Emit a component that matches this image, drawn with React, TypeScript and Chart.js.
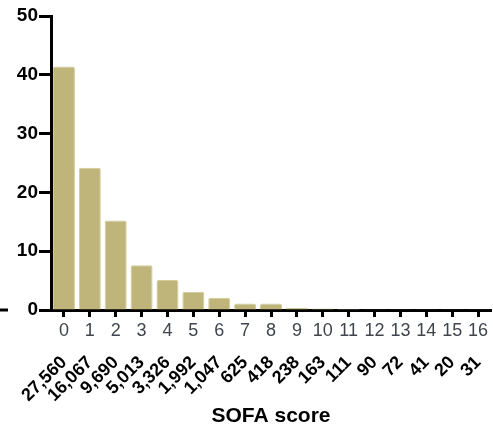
import React, { useEffect, useRef } from "react";
import { Chart, registerables } from "chart.js";

Chart.register(...registerables);

const scores = ["0", "1", "2", "3", "4", "5", "6", "7", "8", "9", "10", "11", "12", "13", "14", "15", "16"];
const counts = ["27,560", "16,067", "9,690", "5,013", "3,326", "1,992", "1,047", "625", "418", "238", "163", "111", "90", "72", "41", "20", "31"];
const percents = [41.4, 24.2, 15.2, 7.6, 5.1, 3.1, 2.1, 1.1, 1.1, 0.4, 0.25, 0.17, 0.14, 0.11, 0.06, 0.03, 0.05];
const yTicks = [0, 10, 20, 30, 40, 50];
const axisTitle = "SOFA score";

const FONT = "'Liberation Sans', Arial, sans-serif";

const dashPlugin = {
  id: "leftDash",
  afterDraw(chart: any) {
    const y = chart.scales.y.getPixelForValue(0);
    const ctx = chart.ctx;
    ctx.save();
    ctx.strokeStyle = "#000";
    ctx.lineWidth = 3;
    ctx.beginPath();
    ctx.moveTo(0, y);
    ctx.lineTo(8, y);
    ctx.stroke();
    ctx.restore();
  },
};

export default function App() {
  const ref = useRef<HTMLCanvasElement | null>(null);

  useEffect(() => {
    if (!ref.current) return;
    const chart = new Chart(ref.current, {
      type: "bar",
      data: {
        labels: scores,
        datasets: [
          {
            data: percents,
            backgroundColor: "#BFB57B",
            borderColor: "#D2CA94",
            borderWidth: 1,
            borderRadius: 2,
            borderSkipped: "bottom",
            barPercentage: 0.85,
            categoryPercentage: 1,
          },
        ],
      },
      options: {
        responsive: false,
        animation: false,
        layout: { padding: { top: 16, right: 2, bottom: 0, left: 0 } },
        plugins: { legend: { display: false }, tooltip: { enabled: false } },
        scales: {
          x: {
            type: "category",
            position: "bottom",
            offset: true,
            afterFit: (scale: any) => {
              scale.height = 30;
              scale.paddingLeft = 0;
              scale.paddingRight = 0;
            },
            grid: {
              display: true,
              drawOnChartArea: false,
              offset: false,
              tickLength: 7,
              tickWidth: 3,
              tickColor: "#000",
            },
            border: { display: true, width: 3, color: "#000" },
            ticks: {
              color: "#40454d",
              font: { family: FONT, size: 18 },
              maxRotation: 0,
              minRotation: 0,
              autoSkip: false,
              padding: 3,
            },
          },
          x2: {
            type: "category",
            position: "bottom",
            labels: counts,
            offset: true,
            afterFit: (scale: any) => {
              scale.height = 89;
              scale.paddingLeft = 0;
              scale.paddingRight = 0;
            },
            grid: { display: false, drawTicks: false },
            border: { display: false },
            ticks: {
              color: "#000",
              font: { family: FONT, size: 18, weight: "bold" },
              maxRotation: 45,
              minRotation: 45,
              autoSkip: false,
              padding: 12,
            },
            title: {
              display: true,
              text: axisTitle,
              color: "#000",
              font: { family: FONT, size: 21, weight: "bold" },
              padding: { top: 8, bottom: 0 },
            },
          },
          y: {
            min: 0,
            max: 50,
            afterFit: (scale: any) => {
              scale.width = 51;
            },
            afterBuildTicks: (scale: any) => {
              scale.ticks = yTicks.map((v) => ({ value: v }));
            },
            grid: {
              display: true,
              drawOnChartArea: false,
              tickLength: 12,
              tickWidth: 3,
              tickColor: "#000",
            },
            border: { display: true, width: 3, color: "#000" },
            ticks: {
              color: "#000",
              font: { family: FONT, size: 19, weight: "bold" },
              padding: 1,
            },
          },
        },
      },
      plugins: [dashPlugin],
    });
    return () => chart.destroy();
  }, []);

  return (
    <div style={{ position: "fixed", left: 0, top: 0, width: 493, height: 429, overflow: "hidden", background: "#fff" }}>
      <canvas ref={ref} width={493} height={429} />
    </div>
  );
}
